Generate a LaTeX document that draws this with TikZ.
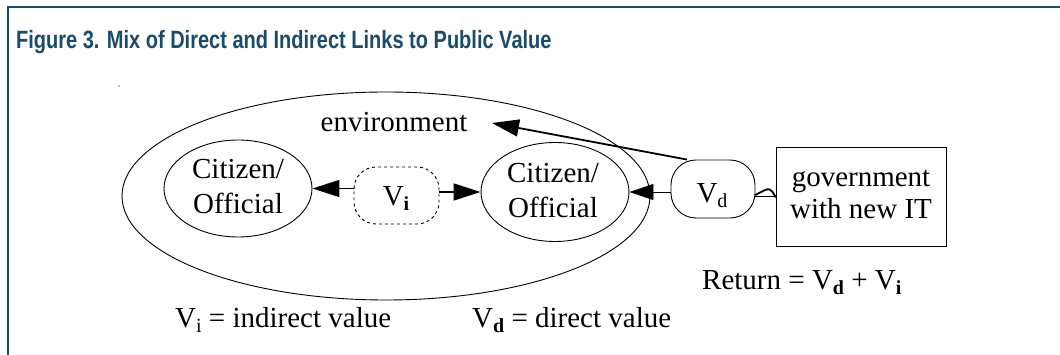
\documentclass[tikz,border=0pt]{standalone}
\usepackage{fontspec}
\usepackage{graphicx}
\setmainfont{Liberation Serif}
\newfontfamily\titlefont{Liberation Sans Bold}
\usetikzlibrary{arrows.meta,shapes.geometric}
\definecolor{frameblue}{RGB}{26,75,107}
\newcommand{\subx}[1]{\raisebox{-5pt}{\fontsize{20}{20}\selectfont #1}}
\begin{document}
\begin{tikzpicture}[x=1pt,y=-1pt,
  every node/.style={inner sep=0pt},
  txt/.style={font=\fontsize{29}{35}\selectfont, align=center},
  oval/.style={draw, ellipse, line width=0.9pt},
  pill/.style={draw, rectangle, rounded corners=22pt, line width=0.9pt},
  arr/.style={-{Triangle[length=27pt,width=17pt]}, line width=1.5pt},
  thinarr/.style={-{Triangle[length=24pt,width=16pt]}, line width=0.9pt}]
\useasboundingbox (0,0) rectangle (1060,355);
\fill[white] (0,0) rectangle (1060,355);
% frame
\draw[frameblue, line width=2pt] (7.5,355) -- (7.5,7.5) -- (1060,7.5);
\node[anchor=base west, font=\titlefont\fontsize{25}{25}\selectfont, text=frameblue] (title) at (16,49) {\scalebox{0.80}[1]{Figure 3. Mix of Direct and Indirect Links to Public Value}};
% stray dot
\fill (119,86) circle (0.6);
% outer ellipse
\node[oval, minimum width=528pt, minimum height=208pt] (env) at (386,196) {};
\node[txt, anchor=base] (envlabel) at (394,132) {environment};
% inner ellipses
\node[oval, minimum width=148pt, minimum height=97pt] (lc) at (238,188.5) {};
\node[txt, anchor=base] (lct) at (238,214) {Citizen/\\Official};
\node[oval, minimum width=148pt, minimum height=99pt] (rc) at (555,192) {};
\node[txt, anchor=base] (rct) at (553,218) {Citizen/\\Official};
% Vi
\node[pill, dashed, minimum width=85pt, minimum height=57pt] (vi) at (396.5,195.5) {};
\node[txt, anchor=base] (vit) at (396,206) {V\subx{\bfseries i}};
% Vd
\node[pill, minimum width=84pt, minimum height=58pt, rounded corners=25pt] (vd) at (713,189) {};
\node[txt, anchor=base] (vdt) at (712,203) {V\subx{d}};
% government
\node[draw, line width=0.9pt, minimum width=170pt, minimum height=99pt] (gov) at (861,196.5) {};
\node[txt, anchor=base, font=\fontsize{29}{32}\selectfont] (govt) at (861,219) {government\\with new IT};
% connectors
\draw[arr] (vi.west |- lc.east) -- (lc.east);
\draw[arr] (vi.east |- rc.west) -- (rc.west);
\draw[thinarr] (vd.west |- rc.east) -- (rc.east);
\coordinate (envtip) at (492,123);
\draw[-{Triangle[length=27pt,width=17pt]}, line width=1.8pt] ([xshift=-26pt]vd.north) -- (envtip);
\draw[line width=0.9pt] (vd.east |- 0,196) -- (gov.west |- 0,196);
\draw[line width=1.8pt, line cap=round] ([yshift=-6pt]vd.east) .. controls (770,187) .. ([yshift=-0.5pt]gov.west);
% labels
\node[txt, anchor=base west] (vilabel) at (175,327) {V\subx{i} = indirect value};
\node[txt, anchor=base west] (vdlabel) at (472,327) {V\subx{\bfseries d} = direct value};
\node[txt, anchor=base west] (ret) at (702,290) {Return = V\subx{\bfseries d} + V\subx{\bfseries i}};
\end{tikzpicture}
\end{document}
